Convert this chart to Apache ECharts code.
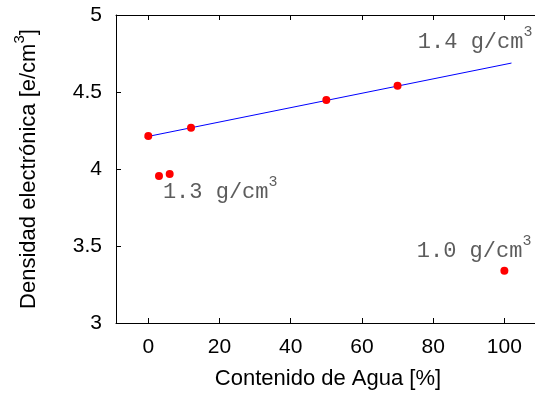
<!DOCTYPE html>
<html>
<head>
<meta charset="utf-8">
<script src="https://cdn.jsdelivr.net/npm/echarts@6/dist/echarts.min.js"></script>
<style>
html,body{margin:0;padding:0;background:#fff;}
#c{width:535px;height:397px;}
</style>
</head>
<body>
<div id="c"></div>
<script>
// Data
const waterContent = [0, 3, 6, 12, 50, 70, 100];
const electronDensity = [4.214, 3.955, 3.968, 4.268, 4.448, 4.541, 3.34];
const fitX = [-1, 102];
const fitY = [4.207, 4.688];
const xTicks = [0, 20, 40, 60, 80, 100];
const yTicks = [3, 3.5, 4, 4.5, 5];
const annotationText = ['1.4 g/cm', '1.3 g/cm', '1.0 g/cm'];
const annotationX = [75.7, 4.1, 75.4];
const annotationY = [4.755, 3.78, 3.397];

const chart = echarts.init(document.getElementById('c'));
const sans = 'Liberation Sans';
const mono = 'Liberation Mono';

const option = {
  animation: false,
  backgroundColor: '#fff',
  grid: { left: 116, top: 15, right: 0, bottom: 74, containLabel: false },
  xAxis: [{
    type: 'value', min: -9.07, max: 108.6, position: 'bottom',
    name: 'Contenido de Agua [%]', nameLocation: 'middle', nameGap: 45,
    nameTextStyle: { fontFamily: sans, fontSize: 22, color: '#000', padding: [0, 0, 0, 5] },
    axisLine: { show: true, onZero: false, lineStyle: { color: '#000', width: 1 } },
    axisTick: { show: true, inside: true, length: 5, customValues: xTicks, lineStyle: { color: '#000' } },
    axisLabel: { show: true, customValues: xTicks, fontFamily: sans, fontSize: 21, color: '#000', margin: 14 },
    splitLine: { show: false }
  }, {
    type: 'value', min: -9.07, max: 108.6, position: 'top',
    axisLine: { show: true, onZero: false, lineStyle: { color: '#000', width: 1 } },
    axisTick: { show: true, inside: true, length: 5, customValues: xTicks, lineStyle: { color: '#000' } },
    axisLabel: { show: false },
    splitLine: { show: false }
  }],
  yAxis: [{
    type: 'value', min: 3, max: 5, interval: 0.5,
    name: '{a|Densidad electrónica [e/cm}{s|3}{a|]}', nameLocation: 'middle', nameGap: 76, nameRotate: 90,
    nameTextStyle: {
      fontFamily: sans, fontSize: 22, color: '#000',
      rich: {
        a: { fontFamily: sans, fontSize: 22, color: '#000', lineHeight: 28, verticalAlign: 'bottom' },
        s: { fontFamily: sans, fontSize: 15, color: '#000', lineHeight: 28, verticalAlign: 'top' }
      }
    },
    axisLine: { show: true, onZero: false, lineStyle: { color: '#000', width: 1 } },
    axisTick: { show: true, inside: true, length: 5, lineStyle: { color: '#000' } },
    axisLabel: { show: true, fontFamily: sans, fontSize: 21, color: '#000', margin: 14 },
    splitLine: { show: false }
  }],
  series: [{
    type: 'line',
    data: fitX.map((x, i) => [x, fitY[i]]),
    showSymbol: false, symbol: 'none',
    lineStyle: { color: '#0000ff', width: 1 },
    z: 2
  }, {
    type: 'scatter',
    data: waterContent.map((x, i) => [x, electronDensity[i]]),
    symbol: 'circle', symbolSize: 8,
    itemStyle: { color: '#ff0000', opacity: 1 },
    z: 3
  }, {
    type: 'scatter',
    data: annotationX.map((x, i) => ({ value: [x, annotationY[i]], name: annotationText[i] })),
    symbolSize: 0,
    silent: true,
    label: {
      show: true,
      position: [0, 0],
      align: 'left',
      verticalAlign: 'bottom',
      formatter: p => '{n|' + p.name + '}{s|3}',
      rich: {
        n: { fontFamily: mono, fontSize: 22, color: '#333', lineHeight: 28, verticalAlign: 'bottom' },
        s: { fontFamily: mono, fontSize: 15, color: '#333', lineHeight: 28, verticalAlign: 'top' }
      }
    },
    z: 4
  }]
};
chart.setOption(option);
</script>
</body>
</html>
